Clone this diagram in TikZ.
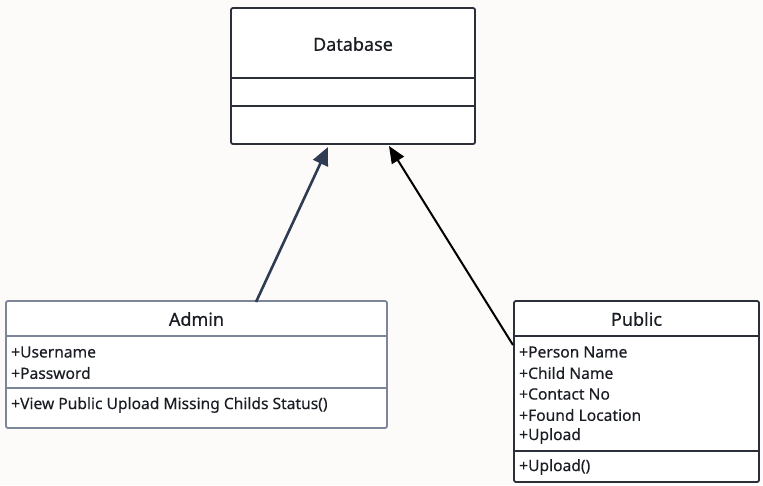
\documentclass[tikz,border=0pt]{standalone}
\usepackage{fontspec}
\setmainfont{Noto Sans}
\newfontfamily\titlefont[FakeBold=0.6]{Noto Sans}
\newfontfamily\attrfont[FakeBold=0.25]{Noto Sans}
\usetikzlibrary{arrows.meta}
\definecolor{bg}{HTML}{FCFBFA}
\definecolor{darkline}{HTML}{2B2F3A}
\definecolor{greyline}{HTML}{7D8598}
\definecolor{navy}{HTML}{2F3B52}
\definecolor{txt}{HTML}{1A1D24}
\tikzset{
  box/.style={draw=#1, line width=1.8pt, rounded corners=2pt, fill=white},
  sep/.style={draw=#1, line width=1.8pt},
  title/.style={font=\titlefont\fontsize{18}{20}\selectfont, text=txt, inner sep=0pt},
  attr/.style={font=\attrfont\fontsize{15.6}{21}\selectfont, text=txt, inner sep=0pt, anchor=west},
}
\begin{document}
\begin{tikzpicture}[x=1pt,y=-1pt]
\useasboundingbox[fill=bg] (0,0) rectangle (763,485);
% Database
\draw[box=darkline] (231,8) rectangle (475,144);
\draw[sep=darkline] (231,78) -- (475,78);
\draw[sep=darkline] (231,106) -- (475,106);
\node[title] (dbt) at (353,44) {Database};
\coordinate (dbA) at (328,147);
\coordinate (dbP) at (389,146);
% Admin
\draw[box=greyline] (6,301) rectangle (387,428);
\draw[sep=greyline] (6,336) -- (387,336);
\draw[sep=greyline] (6,388) -- (387,388);
\node[title] (admint) at (196.5,319) {Admin};
\node[attr] (a1) at (11,352) {+Username};
\node[attr] (a2) at (11,373) {+Password};
\node[attr] (a3) at (11,405) {+View Public Upload Missing Childs Status()};
\coordinate (admintop) at (256,302);
% Public
\draw[box=darkline] (514,301) rectangle (759,482);
\draw[sep=darkline] (514,336) -- (759,336);
\draw[sep=darkline] (514,451) -- (759,451);
\node[title] (pubt) at (636.5,319) {Public};
\node[attr] (p1) at (519,352) {+Person Name};
\node[attr] (p2) at (519,373) {+Child Name};
\node[attr] (p3) at (519,394) {+Contact No};
\node[attr] (p4) at (519,415) {+Found Location};
\node[attr] (p5) at (519,436) {+Upload};
\node[attr] (p6) at (519,467) {+Upload()};
\coordinate (publeft) at (513,345);
% connectors
\draw[navy, line width=2.6pt, -{Triangle[length=18pt,width=16pt]}] (admintop) -- (dbA);
\draw[black, line width=2pt, -{Triangle[length=17pt,width=14pt]}] (publeft) -- (dbP);
\end{tikzpicture}
\end{document}
